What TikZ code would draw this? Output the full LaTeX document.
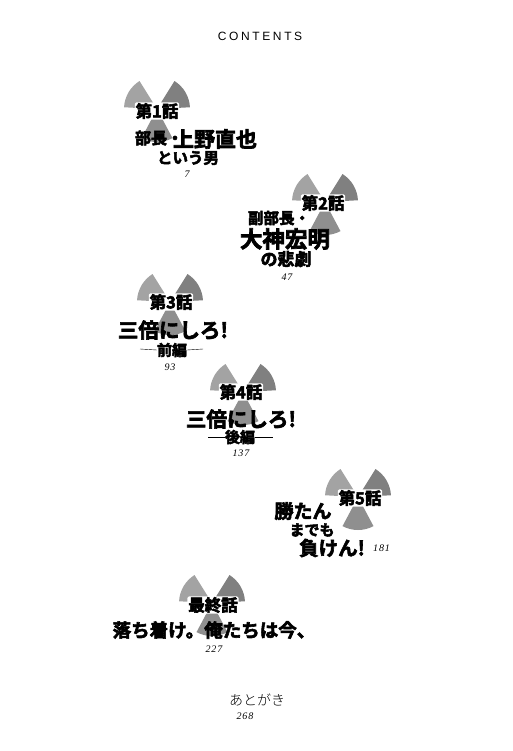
\documentclass[tikz,border=0pt]{standalone}
\usepackage{fontspec}
\setmainfont{Liberation Serif}
\newfontfamily\capsfont[LetterSpace=22]{Liberation Sans}
\newfontfamily\pagefont[LetterSpace=9]{Liberation Serif}
\newfontfamily\headfont[FakeBold=3.2]{Noto Sans CJK JP Bold}
\newfontfamily\bodyfont{Noto Sans CJK JP Light}
\usetikzlibrary{calc}
\newcommand{\blades}[2]{%
  \fill[black!50] (#1) -- ++(-58:#2) arc (-58:-3:#2) -- cycle;
  \fill[black!36] (#1) -- ++(-122:#2) arc (-122:-177:#2) -- cycle;
  \fill[black!44] (#1) -- ++(62:#2) arc (62:118:#2) -- cycle;
}
\begin{document}
\begin{tikzpicture}[x=1pt,y=-1pt,
      tag style/.style={fill=white,rounded corners=1.5pt,inner sep=0.8pt,font={\headfont\fontsize{16.5}{16.5}\selectfont}},
      title style/.style={inner sep=0pt,font={\headfont\fontsize{#1}{#1}\selectfont}},
      page style/.style={inner sep=0pt,font={\pagefont\itshape\fontsize{10}{10}\selectfont}}
      ]
      \useasboundingbox (0,0) rectangle (512,751);
      \node[inner sep=0pt,font={\capsfont\fontsize{12}{12}\selectfont}] (contents) at (260,36) {CONTENTS};
      % first chapter
      \blades{157,109}{33}
      \node[tag style] (tag1) at (157,111) {第1話};
      \node[title style=16] (t1a) at (159,138) {部長・};
      \node[title style=21] (t1b) at (215,139) {上野直也};
      \node[title style=15.5] (t1c) at (188,158) {という男};
      \node[page style] (p1) at (187,174) {7};
      % second chapter
      \blades{325,202}{33}
      \node[tag style] (tag2) at (323,203) {第2話};
      \node[title style=15.5] (t2a) at (279,218) {副部長・};
      \node[title style=22.5] (t2b) at (285,239) {大神宏明};
      \node[title style=17] (t2c) at (286,259) {の悲劇};
      \node[page style] (p2) at (287,277) {47};
      % third chapter
      \blades{170,302}{33}
      \node[tag style] (tag3) at (171,302) {第3話};
      \node[title style=20.5] (t3a) at (173,330) {三倍にしろ!};
      \node[title style=15] (t3b) at (172,350) {前編};
      \draw (140,349) -- (t3b.west);
      \draw (t3b.east) -- (203,349);
      \node[page style] (p3) at (170,367) {93};
      % fourth chapter
      \blades{243,392}{33}
      \node[tag style] (tag4) at (241,392) {第4話};
      \node[title style=20.5] (t4a) at (241,419) {三倍にしろ!};
      \node[title style=15] (t4b) at (240,437) {後編};
      \draw (208,437) -- (t4b.west);
      \draw (t4b.east) -- (273,437);
      \node[page style] (p4) at (241,453) {137};
      % fifth chapter
      \blades{358,497}{33}
      \node[tag style] (tag5) at (360,498) {第5話};
      \node[title style=19] (t5a) at (303,511) {勝たん};
      \node[title style=15] (t5b) at (312,530) {までも};
      \node[title style=19.5] (t5c) at (332,548) {負けん!};
      \begin{scope}
        \clip (360,530) rectangle (388,560);
        \node[page style,anchor=west] (p5) at (373,548) {181};
      \end{scope}
      % last chapter
      \blades{212,603}{33}
      \node[tag style] (tag6) at (213,605) {最終話};
      \node[title style=18.5] (t6a) at (214,630) {落ち着け。俺たちは今、};
      \node[page style] (p6) at (214,649) {227};
      \node[inner sep=0pt,font={\bodyfont\fontsize{14}{14}\selectfont}] (after) at (257,700) {あとがき};
      \node[page style] (p7) at (245,716) {268};
    \end{tikzpicture}
\end{document}
